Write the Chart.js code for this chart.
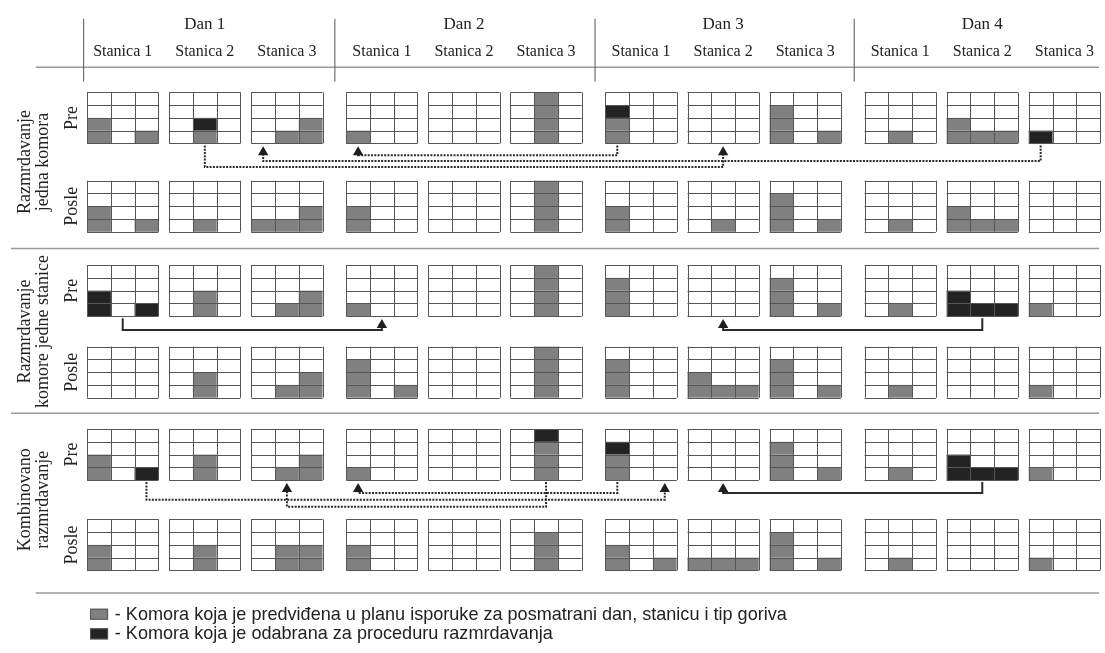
<!DOCTYPE html>
<html>
<head>
<meta charset="utf-8">
<script src="https://cdn.jsdelivr.net/npm/chart.js@4.4.0/dist/chart.umd.min.js"></script>
<style>
    html, body { margin: 0; padding: 0; background: #fff; }
    #wrap { width: 1105px; height: 653px; }
</style>
</head>
<body>
<div id="wrap"><canvas id="diagram" width="1105" height="653"></canvas></div>
<script>
const days = ['Dan 1', 'Dan 2', 'Dan 3', 'Dan 4'];
const stations = ['Stanica 1', 'Stanica 2', 'Stanica 3'];
const phases = ['Pre', 'Posle'];
const methods = [
    ['Razmrdavanje', 'jedna komora'],
    ['Razmrdavanje', 'komore jedne stanice'],
    ['Kombinovano', 'razmrdavanje']
];
const legendItems = [
    '- Komora koja je predviđena u planu isporuke za posmatrani dan, stanicu i tip goriva',
    '- Komora koja je odabrana za proceduru razmrdavanja'
];

// one string per station box (day by day), rows top to bottom: g = planned, b = selected
const m1Pre = ['...|...|g..|g.g', '...|...|.b.|.g.', '...|...|..g|.gg',
               '...|...|...|g..', '...|...|...|...', '.g.|.g.|.g.|.g.',
               '...|b..|g..|g..', '...|...|...|...', '...|g..|g..|g.g',
               '...|...|...|.g.', '...|...|g..|ggg', '...|...|...|b..'];
const m1Post = ['...|...|g..|g.g', '...|...|...|.g.', '...|...|..g|ggg',
                '...|...|g..|g..', '...|...|...|...', '.g.|.g.|.g.|.g.',
                '...|...|g..|g..', '...|...|...|.g.', '...|g..|g..|g.g',
                '...|...|...|.g.', '...|...|g..|ggg', '...|...|...|...'];
const m2Pre = ['...|...|b..|b.b', '...|...|.g.|.g.', '...|...|..g|.gg',
               '...|...|...|g..', '...|...|...|...', '.g.|.g.|.g.|.g.',
               '...|g..|g..|g..', '...|...|...|...', '...|g..|g..|g.g',
               '...|...|...|.g.', '...|...|b..|bbb', '...|...|...|g..'];
const m2Post = ['...|...|...|...', '...|...|.g.|.g.', '...|...|..g|.gg',
                '...|g..|g..|g.g', '...|...|...|...', '.g.|.g.|.g.|.g.',
                '...|g..|g..|g..', '...|...|g..|ggg', '...|g..|g..|g.g',
                '...|...|...|.g.', '...|...|...|...', '...|...|...|g..'];
const m3Pre = ['...|...|g..|g.b', '...|...|.g.|.g.', '...|...|..g|.gg',
               '...|...|...|g..', '...|...|...|...', '.b.|.g.|.g.|.g.',
               '...|b..|g..|g..', '...|...|...|...', '...|g..|g..|g.g',
               '...|...|...|.g.', '...|...|b..|bbb', '...|...|...|g..'];
const m3Post = ['...|...|g..|g..', '...|...|.g.|.g.', '...|...|.gg|.gg',
                '...|...|g..|g..', '...|...|...|...', '...|.g.|.g.|.g.',
                '...|...|g..|g.g', '...|...|...|ggg', '...|g..|g..|g.g',
                '...|...|...|.g.', '...|...|...|...', '...|...|...|g..'];

// moves: [from box, from column, to box, to column, lane, style]  (box = day*3 + station)
const m1Moves = [[6, 0, 3, 0, 0, 'dot'], [11, 0, 2, 0, 1, 'dot'], [1, 1, 7, 1, 2, 'dot']];
const m2Moves = [[0, 1, 3, 1, 0, 'solid'], [10, 1, 7, 1, 0, 'solid']];
const m3Moves = [[6, 0, 3, 0, 0, 'dot'], [0, 2, 6, 2, 1, 'dot'], [5, 1, 2, 1, 2, 'dot'],
                 [10, 1, 7, 1, 0, 'solid']];

const grids = [[m1Pre, m1Post], [m2Pre, m2Post], [m3Pre, m3Post]];
const moves = [m1Moves, m2Moves, m3Moves];

// layout, in the units of the x/y scales
const W = 1105, H = 653;
const BOX_X0 = 82, DAY_STEP = 262, ST_STEP = 83;
const CELL_W = 24, CELL_H = 13;
const ROW_TOP = [[88, 178], [264, 347], [431, 523]];
const LANES = [[12, 18, 24], [14], [13, 20, 27]];
const SEPARATORS = [247, 415];

const GRAY = '#808080';
const BLACK = '#232323';
const LINE = '#555';
const SERIF = '"Liberation Serif", "DejaVu Serif", serif';

function boxLeft(b) {
    return BOX_X0 + Math.floor(b / 3) * DAY_STEP + (b % 3) * ST_STEP;
}

function colCenter(b, c) {
    return boxLeft(b) + (c + 0.5) * CELL_W;
}

function boxBottom(m) {
    return ROW_TOP[m][0] + 4 * CELL_H;
}

const datasets = [];
moves.forEach((list, m) => {
    list.forEach(mv => {
        const [fb, fc, tb, tc, lane, style] = mv;
        const bottom = boxBottom(m);
        const laneY = bottom + LANES[m][lane];
        const x1 = colCenter(fb, fc);
        const x2 = colCenter(tb, tc);
        datasets.push({
            data: [
                { x: x1, y: bottom + 2 },
                { x: x1, y: laneY },
                { x: x2, y: laneY },
                { x: x2, y: bottom + 9 }
            ],
            showLine: true,
            borderColor: '#2a2a2a',
            borderWidth: 2,
            borderDash: style === 'dot' ? [2, 1.3] : [],
            tension: 0,
            pointRadius: ctx => ctx.dataIndex === 3 ? 6 : 0,
            pointStyle: 'triangle',
            pointBackgroundColor: '#1e1e1e',
            pointBorderWidth: 0,
            clip: false
        });
    });
});

const diagramPlugin = {
    id: 'diagram',
    beforeDatasetsDraw(chart) {
        const ctx = chart.ctx;
        const sx = chart.scales.x;
        const sy = chart.scales.y;
        const px = v => sx.getPixelForValue(v);
        const py = v => sy.getPixelForValue(v);

        ctx.save();
        ctx.fillStyle = '#fff';
        ctx.fillRect(0, 0, W, H);

        // header
        ctx.fillStyle = '#222';
        ctx.textAlign = 'center';
        ctx.textBaseline = 'alphabetic';
        days.forEach((d, i) => {
            const c = (boxLeft(i * 3) + boxLeft(i * 3 + 2) + 3 * CELL_W) / 2;
            ctx.font = '17px ' + SERIF;
            ctx.fillText(d, px(c), py(23));
            stations.forEach((s, j) => {
                ctx.font = '16px ' + SERIF;
                ctx.fillText(s, px(boxLeft(i * 3 + j) + 1.5 * CELL_W), py(51));
            });
        });

        ctx.strokeStyle = '#9a9a9a';
        ctx.lineWidth = 1.5;
        ctx.beginPath();
        ctx.moveTo(px(30), py(62.5));
        ctx.lineTo(px(W), py(62.5));
        SEPARATORS.forEach(y => {
            ctx.moveTo(px(5), py(y));
            ctx.lineTo(px(W), py(y));
        });
        ctx.moveTo(px(30), py(598));
        ctx.lineTo(px(W), py(598));
        ctx.stroke();

        ctx.strokeStyle = '#555';
        ctx.lineWidth = 1;
        ctx.beginPath();
        [78.5, 332.5, 595.5, 857.5].forEach(x => {
            ctx.moveTo(px(x), py(13));
            ctx.lineTo(px(x), py(77));
        });
        ctx.stroke();

        // station boxes
        grids.forEach((pair, m) => {
            pair.forEach((row, p) => {
                const top = ROW_TOP[m][p];
                row.forEach((box, b) => {
                    const left = boxLeft(b);
                    box.split('|').forEach((cells, r) => {
                        cells.split('').forEach((v, c) => {
                            if (v === '.') return;
                            ctx.fillStyle = v === 'b' ? BLACK : GRAY;
                            ctx.fillRect(px(left + c * CELL_W), py(top + r * CELL_H),
                                px(left + (c + 1) * CELL_W) - px(left + c * CELL_W),
                                py(top + (r + 1) * CELL_H) - py(top + r * CELL_H));
                        });
                    });
                    ctx.strokeStyle = LINE;
                    ctx.lineWidth = 1;
                    ctx.beginPath();
                    for (let c = 0; c <= 3; c++) {
                        const x = Math.round(px(left + c * CELL_W)) + 0.5;
                        ctx.moveTo(x, py(top));
                        ctx.lineTo(x, py(top + 4 * CELL_H));
                    }
                    for (let r = 0; r <= 4; r++) {
                        const y = Math.round(py(top + r * CELL_H)) + 0.5;
                        ctx.moveTo(px(left), y);
                        ctx.lineTo(px(left + 3 * CELL_W), y);
                    }
                    ctx.stroke();
                });

                // Pre / Posle
                ctx.save();
                ctx.translate(px(67), py(top + 2 * CELL_H));
                ctx.rotate(-Math.PI / 2);
                ctx.fillStyle = '#222';
                ctx.font = '18px ' + SERIF;
                ctx.textAlign = 'center';
                ctx.textBaseline = 'middle';
                ctx.fillText(phases[p], 0, 0);
                ctx.restore();
            });

            // method label
            const mid = (ROW_TOP[m][0] + ROW_TOP[m][1] + 4 * CELL_H) / 2;
            methods[m].forEach((line, k) => {
                ctx.save();
                ctx.translate(px(19 + k * 19), py(mid));
                ctx.rotate(-Math.PI / 2);
                ctx.fillStyle = '#222';
                ctx.font = '18px ' + SERIF;
                ctx.textAlign = 'center';
                ctx.textBaseline = 'middle';
                ctx.fillText(line, 0, 0);
                ctx.restore();
            });
        });

        // legend, condensed text
        ctx.font = '19px "Liberation Sans", Arial, sans-serif';
        const squeeze = 672 / ctx.measureText(legendItems[0]).width;
        legendItems.forEach((t, i) => {
            const y = 614 + i * 20;
            ctx.fillStyle = i === 0 ? GRAY : BLACK;
            ctx.fillRect(px(85), py(y), 18, 11);
            ctx.strokeStyle = LINE;
            ctx.lineWidth = 1;
            ctx.strokeRect(px(85) + 0.5, py(y) + 0.5, 17, 10);
            ctx.save();
            ctx.translate(px(110), py(y + 6));
            ctx.scale(squeeze, 1);
            ctx.fillStyle = '#222';
            ctx.textAlign = 'left';
            ctx.textBaseline = 'middle';
            ctx.fillText(t, 0, 0);
            ctx.restore();
        });

        ctx.restore();
    }
};

new Chart(document.getElementById('diagram'), {
    type: 'scatter',
    data: { datasets: datasets },
    options: {
        responsive: false,
        devicePixelRatio: 1,
        animation: false,
        events: [],
        layout: { padding: 0 },
        plugins: {
            legend: { display: false },
            tooltip: { enabled: false }
        },
        scales: {
            x: { type: 'linear', min: 0, max: W, display: false },
            y: { type: 'linear', min: 0, max: H, reverse: true, display: false }
        }
    },
    plugins: [diagramPlugin]
});
</script>
</body>
</html>
